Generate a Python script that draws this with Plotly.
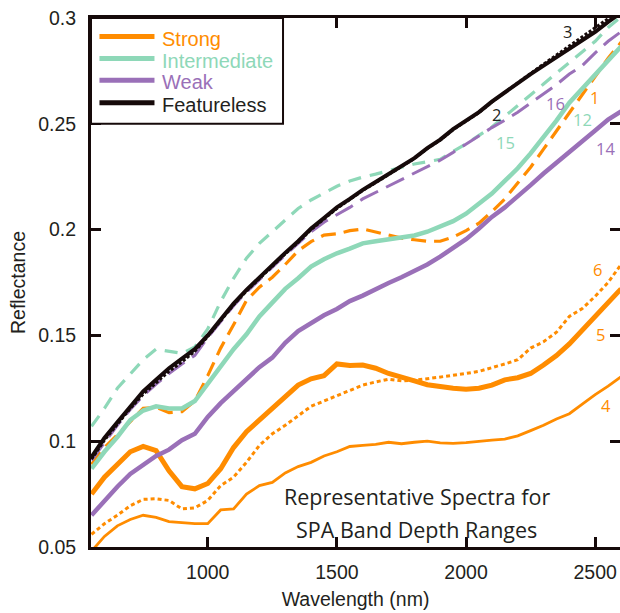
import plotly.graph_objects as go

wavelength = [550, 600, 650, 700, 750, 800, 850, 900, 950, 1000, 1050, 1100, 1150, 1200,
              1250, 1300, 1350, 1400, 1450, 1500, 1550, 1600, 1650, 1700, 1750, 1800, 1850,
              1900, 1950, 2000, 2050, 2100, 2150, 2200, 2250, 2300, 2350, 2400, 2450, 2500,
              2550, 2600]

strong_1 = [0.089, 0.097, 0.103, 0.109, 0.1155, 0.116, 0.1135, 0.114, 0.119, 0.131, 0.144, 0.155,
            0.1665, 0.1728, 0.1775, 0.1835, 0.190, 0.1943, 0.1974, 0.198, 0.1995, 0.2003, 0.1988,
            0.1973, 0.196, 0.1952, 0.1945, 0.1945, 0.1965, 0.1995, 0.203, 0.2085, 0.2145, 0.222,
            0.2295, 0.238, 0.2465, 0.255, 0.2635, 0.2725, 0.281, 0.2885]
strong_4 = [0.048, 0.055, 0.060, 0.063, 0.065, 0.064, 0.062, 0.0615, 0.061, 0.061, 0.0675, 0.068,
            0.075, 0.079, 0.0805, 0.085, 0.088, 0.090, 0.093, 0.095, 0.0975, 0.098, 0.0985, 0.0995,
            0.0988, 0.0995, 0.100, 0.0992, 0.099, 0.0993, 0.100, 0.1005, 0.101, 0.1025, 0.105,
            0.1075, 0.1105, 0.113, 0.1175, 0.122, 0.126, 0.1305]
strong_5 = [0.075, 0.083, 0.089, 0.095, 0.0975, 0.0955, 0.086, 0.0785, 0.0775, 0.080, 0.087, 0.097,
            0.1045, 0.110, 0.1155, 0.121, 0.1265, 0.1295, 0.131, 0.1365, 0.1358, 0.136, 0.1345,
            0.132, 0.130, 0.1285, 0.1267, 0.1256, 0.125, 0.1246, 0.125, 0.1265, 0.129, 0.130,
            0.132, 0.136, 0.1405, 0.146, 0.1525, 0.159, 0.166, 0.172]
strong_6 = [0.056, 0.061, 0.065, 0.0695, 0.0725, 0.0728, 0.072, 0.068, 0.0685, 0.072, 0.079, 0.083,
            0.090, 0.098, 0.1035, 0.1075, 0.112, 0.1165, 0.119, 0.1215, 0.124, 0.1265, 0.128,
            0.1293, 0.1285, 0.1288, 0.1295, 0.1303, 0.131, 0.132, 0.133, 0.1347, 0.1365, 0.1385,
            0.144, 0.147, 0.1515, 0.159, 0.1627, 0.1685, 0.175, 0.1835]
inter_12 = [0.087, 0.095, 0.102, 0.110, 0.1145, 0.1165, 0.1155, 0.1155, 0.119, 0.127, 0.135, 0.1435,
            0.1505, 0.159, 0.1655, 0.172, 0.177, 0.1825, 0.186, 0.1888, 0.191, 0.1935, 0.1945,
            0.1955, 0.1963, 0.1972, 0.199, 0.2013, 0.204, 0.2075, 0.212, 0.217, 0.223, 0.229,
            0.236, 0.2435, 0.2515, 0.260, 0.2665, 0.2735, 0.280, 0.2865]
inter_15 = [0.107, 0.1155, 0.125, 0.132, 0.1385, 0.1435, 0.1425, 0.1415, 0.1445, 0.153, 0.166, 0.177,
            0.1865, 0.1935, 0.199, 0.2045, 0.210, 0.214, 0.2172, 0.2205, 0.223, 0.2248, 0.2262,
            0.228, 0.2295, 0.231, 0.232, 0.2332, 0.237, 0.2405, 0.2445, 0.2485, 0.2535, 0.2585,
            0.2635, 0.2688, 0.274, 0.279, 0.284, 0.289, 0.2955, 0.3005]
weak_14 = [0.065, 0.072, 0.0785, 0.0845, 0.089, 0.093, 0.096, 0.1005, 0.1035, 0.1115, 0.118, 0.1235,
           0.1295, 0.135, 0.1395, 0.1465, 0.152, 0.156, 0.1595, 0.1625, 0.1662, 0.1688, 0.172,
           0.1748, 0.1775, 0.1805, 0.1835, 0.1872, 0.1913, 0.1955, 0.2005, 0.206, 0.2105, 0.2155,
           0.221, 0.2265, 0.2318, 0.2368, 0.2418, 0.2468, 0.252, 0.2558]
weak_16 = [0.091, 0.0995, 0.1075, 0.115, 0.1215, 0.127, 0.132, 0.1365, 0.1405, 0.149, 0.1565, 0.164,
           0.1705, 0.1765, 0.1825, 0.188, 0.1935, 0.199, 0.2035, 0.207, 0.2105, 0.2145, 0.2175,
           0.2205, 0.2235, 0.2265, 0.2295, 0.2328, 0.2365, 0.2405, 0.2445, 0.2482, 0.2517, 0.2555,
           0.2598, 0.264, 0.2685, 0.2735, 0.2775, 0.2835, 0.289, 0.2935]
feat_2 = [0.0925, 0.1015, 0.109, 0.1165, 0.1235, 0.129, 0.1345, 0.139, 0.1435, 0.150, 0.1575, 0.165,
          0.1715, 0.1775, 0.1835, 0.189, 0.1945, 0.2005, 0.2055, 0.2105, 0.2145, 0.2188, 0.2225,
          0.2262, 0.2298, 0.2338, 0.2385, 0.2425, 0.2475, 0.2515, 0.2555, 0.2605, 0.2648, 0.2695,
          0.2735, 0.2775, 0.2815, 0.2858, 0.2895, 0.2935, 0.2982, 0.3025]
feat_3 = [0.0915, 0.1005, 0.108, 0.1155, 0.1222, 0.1275, 0.133, 0.1375, 0.1425, 0.1495, 0.157, 0.1645,
          0.171, 0.177, 0.183, 0.1885, 0.194, 0.200, 0.205, 0.210, 0.2142, 0.2185, 0.2222,
          0.226, 0.2296, 0.2336, 0.2383, 0.2423, 0.2473, 0.2513, 0.2553, 0.2603, 0.2648, 0.2697,
          0.2738, 0.2782, 0.2825, 0.2872, 0.2912, 0.2955, 0.2998, 0.3040]

legend_labels = ["Strong", "Intermediate", "Weak", "Featureless"]
number_labels = ["1", "2", "3", "4", "5", "6", "12", "14", "15", "16"]
y_ticks = [0.05, 0.1, 0.15, 0.2, 0.25, 0.3]
y_tick_text = ["0.05", "0.1", "0.15", "0.2", "0.25", "0.3"]
x_ticks = [1000, 1500, 2000, 2500]

ORANGE = "#FF8C00"
TEAL = "#8ED8B8"
PURPLE = "#9A70B8"
BLACK = "#160A0A"
TXT = "#231F20"

fig = go.Figure()

def add(y, color, width, dash):
    fig.add_trace(go.Scatter(x=wavelength, y=y, mode="lines", showlegend=False,
                             hoverinfo="skip",
                             line=dict(color=color, width=width, dash=dash)))

add(strong_4, ORANGE, 2.8, "solid")
add(strong_6, ORANGE, 3, "4px,3px")
add(strong_5, ORANGE, 5, "solid")
add(strong_1, ORANGE, 3.2, "15px,8px")
add(weak_14, PURPLE, 4.5, "solid")
add(inter_12, TEAL, 4.5, "solid")
add(inter_15, TEAL, 3.2, "13px,9px")
add(weak_16, PURPLE, 3, "20px,9px")
add(feat_3, BLACK, 3, "3px,2px")
add(feat_2, BLACK, 4, "solid")

# invisible trace for the right-hand tick axis
fig.add_trace(go.Scatter(x=[None], y=[None], yaxis="y2", showlegend=False, hoverinfo="skip"))

axis_font = dict(family="Liberation Sans, Arial, sans-serif", size=19.5, color=TXT)

fig.update_layout(
    width=620, height=613,
    margin=dict(l=91, r=0, t=17.5, b=65.5),
    paper_bgcolor="white", plot_bgcolor="white",
    xaxis=dict(range=[548, 2596], tickvals=x_ticks, ticks="inside", ticklen=10, tickwidth=3,
               tickcolor=BLACK, showline=True, linecolor=BLACK, linewidth=3, mirror="ticks",
               showgrid=False, zeroline=False, tickfont=axis_font, ticklabelstandoff=6,
               title=dict(text="Wavelength (nm)", font=axis_font, standoff=10)),
    yaxis=dict(range=[0.05, 0.3], tickvals=y_ticks, ticktext=y_tick_text, ticks="inside",
               ticklen=10, tickwidth=3, tickcolor=BLACK, showline=True, linecolor=BLACK,
               linewidth=3, showgrid=False, zeroline=False, tickfont=axis_font,
               ticklabelstandoff=8,
               title=dict(text="Reflectance", font=axis_font, standoff=8)),
    yaxis2=dict(range=[0.05, 0.3], overlaying="y", side="right", tickvals=y_ticks,
                ticks="inside", ticklen=10, tickwidth=3, tickcolor=BLACK,
                showticklabels=False, showline=False, showgrid=False, zeroline=False),
)

# legend box drawn manually
fig.add_shape(type="rect", xref="paper", yref="paper", x0=0, x1=0.363, y0=0.8, y1=1.0,
              line=dict(color=BLACK, width=2), fillcolor="white", layer="above")
leg_colors = [ORANGE, TEAL, PURPLE, BLACK]
leg_y = [0.9651, 0.9236, 0.8821, 0.8400]
for lab, col, yy in zip(legend_labels, leg_colors, leg_y):
    fig.add_shape(type="line", xref="paper", yref="paper", x0=0.016, x1=0.12, y0=yy, y1=yy,
                  line=dict(color=col, width=5), layer="above")
    fig.add_annotation(xref="paper", yref="paper", x=0.13, y=yy - 0.004, text=lab,
                       showarrow=False, xanchor="left", yanchor="middle",
                       font=dict(family="Liberation Sans, Arial, sans-serif", size=20,
                                 color=(TXT if col == BLACK else col)))

lab_font = "Open Sans, sans-serif"
num_pos = {"1": (2499, 0.2625, ORANGE), "2": (2119, 0.2545, BLACK), "3": (2394, 0.2936, BLACK),
           "4": (2541, 0.1167, ORANGE), "5": (2522, 0.1502, ORANGE), "6": (2510, 0.181, ORANGE),
           "12": (2452, 0.2521, TEAL), "14": (2541, 0.2384, PURPLE), "15": (2154, 0.2413, TEAL),
           "16": (2348, 0.2597, PURPLE)}
for n in number_labels:
    xx, yy, col = num_pos[n]
    fig.add_annotation(x=xx, y=yy, text=n, showarrow=False,
                       font=dict(family=lab_font, size=16.5, color=(TXT if col == BLACK else col)))

fig.add_annotation(x=1810, y=0.0738, text="Representative Spectra for", showarrow=False,
                   font=dict(family=lab_font, size=21.5, color=TXT))
fig.add_annotation(x=1810, y=0.0583, text="SPA Band Depth Ranges", showarrow=False,
                   font=dict(family=lab_font, size=21.5, color=TXT))

fig.write_html("out.html")
